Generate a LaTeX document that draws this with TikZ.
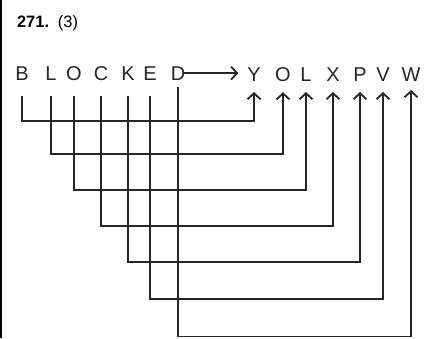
\documentclass[tikz,border=0pt]{standalone}
\usepackage{fontspec}
\setmainfont{Liberation Sans}
\usepackage{tikz}
\usetikzlibrary{arrows.meta,calc}

\begin{document}
\begin{tikzpicture}[x=1pt,y=-1pt,line width=1.5pt,
 every node/.style={inner sep=0pt,outer sep=0pt},
 letter/.style={anchor=base,font=\fontsize{20}{22}\selectfont,text=black!85},
 link/.style={draw=black!85,line cap=rect},
 tip/.style={-{Straight Barb[length=6pt,width=13pt,line width=1.8pt]}}]
\useasboundingbox (0,0) rectangle (438,338);
% frame edge on the left
\draw[line width=2.3pt] (1.15,0) -- (1.15,338);
\node[anchor=base west,font=\fontsize{16.5}{18}\selectfont] (ttl) at (17,27) {\textbf{271.}\, (3)};
% word and its code
\node[letter] (sB) at (22,80) {B};
\node[letter] (sL) at (51,80) {L};
\node[letter] (sO) at (74,80) {O};
\node[letter] (sC) at (101,80) {C};
\node[letter] (sK) at (128,80) {K};
\node[letter] (sE) at (150,80) {E};
\node[letter] (sD) at (178,80) {D};
\node[letter] (tY) at (254,81) {Y};
\node[letter] (tO) at (283,81) {O};
\node[letter] (tL) at (306,81) {L};
\node[letter] (tX) at (333,81) {X};
\node[letter] (tP) at (360,81) {P};
\node[letter] (tV) at (383,81) {V};
\node[letter] (tW) at (411,81) {W};
\draw[link,tip,shorten >=9pt] (sD.east) -- (sD.east -| tY.west);
% links
\foreach \s/\t/\lev in {sB/tY/121,sL/tO/154,sO/tL/190,sC/tX/226,sK/tP/262,sE/tV/299}
 \draw[link,tip] ([yshift=-17pt]\s.south) |- (\t.south |- 0,\lev) -- ([yshift=-11pt]\t.south);
\draw[link,tip] ([yshift=-8pt]sD.south) |- (tW.south |- 0,336.5) -- ([yshift=-9pt]tW.south);
\end{tikzpicture}
\end{document}
